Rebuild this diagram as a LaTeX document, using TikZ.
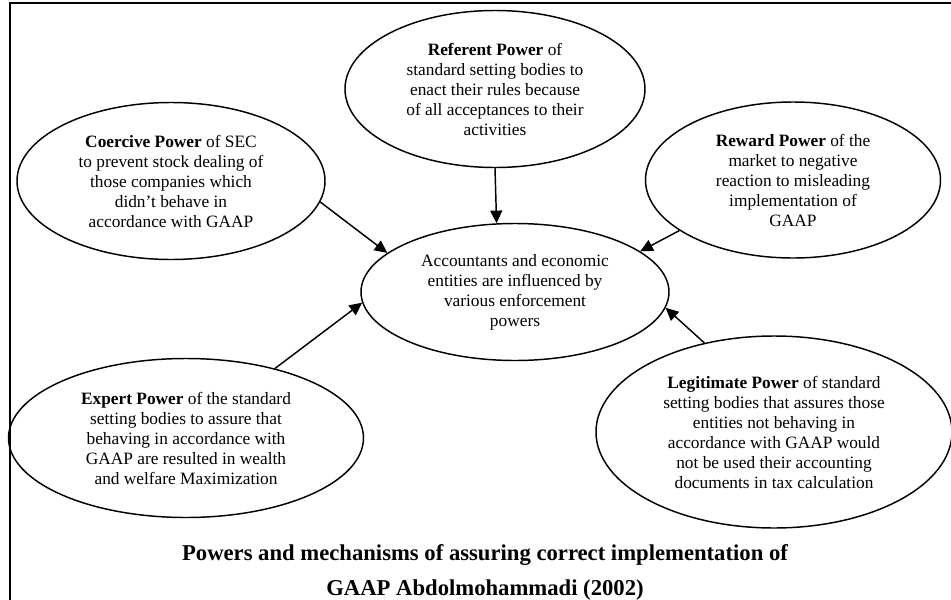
\documentclass[tikz,border=0pt]{standalone}
\usepackage{fontspec}
\setmainfont{Liberation Serif}
\usetikzlibrary{shapes.geometric,arrows.meta}
\begin{document}
\begin{tikzpicture}[x=0.75pt,y=-0.75pt,
  bubble/.style={ellipse,draw,line width=1.1pt,inner sep=0pt,align=center,
    font=\fontsize{13}{15}\selectfont},
  link/.style={line width=1.1pt,-{Triangle[length=9.5pt,width=9pt]}},
  titletext/.style={font=\fontsize{17}{26}\selectfont\bfseries,anchor=base}]
\useasboundingbox (0,0) rectangle (951,600);
\draw[line width=2.2pt] (10,600) -- (10,3) -- (951,3);

\node[bubble,minimum width=225pt,minimum height=117.75pt] (R) at (495,89)
  {\textbf{Referent Power} of\\standard setting bodies to\\enact their rules because\\of all acceptances to their\\activities};
\node[bubble,minimum width=231pt,minimum height=117.75pt] (K) at (171,181)
  {\textbf{Coercive Power} of SEC\\to prevent stock dealing of\\those companies which\\didn’t behave in\\accordance with GAAP};
\node[bubble,minimum width=221.25pt,minimum height=117pt] (W) at (793,180)
  {\textbf{Reward Power} of the\\market to negative\\reaction to misleading\\implementation of\\GAAP};
\node[bubble,minimum width=231pt,minimum height=102.75pt] (C) at (515,292)
  {Accountants and economic\\entities are influenced by\\various enforcement\\powers};
\node[bubble,minimum width=266.25pt,minimum height=119.25pt] (E) at (186,438)
  {\textbf{Expert Power} of the standard\\setting bodies to assure that\\behaving in accordance with\\GAAP are resulted in wealth\\and welfare Maximization};
\node[bubble,minimum width=267pt,minimum height=144pt] (L) at (774,432)
  {\textbf{Legitimate Power} of standard\\setting bodies that assures those\\entities not behaving in\\accordance with GAAP would\\not be used their accounting\\documents in tax calculation};

\draw[link] (R.270) -- (C.105.6);
\draw[link] (K.352.6) -- (C.163.5);
\draw[link] (W.204) -- (C.18.7);
\draw[link] (E.38.5) -- (C.184.9);
\draw[link] (L.128.2) -- (C.354.6);

\node[titletext] (T1) at (485,560) {Powers and mechanisms of assuring correct implementation of};
\node[titletext] (T2) at (485,595) {GAAP Abdolmohammadi (2002)};
\end{tikzpicture}
\end{document}
